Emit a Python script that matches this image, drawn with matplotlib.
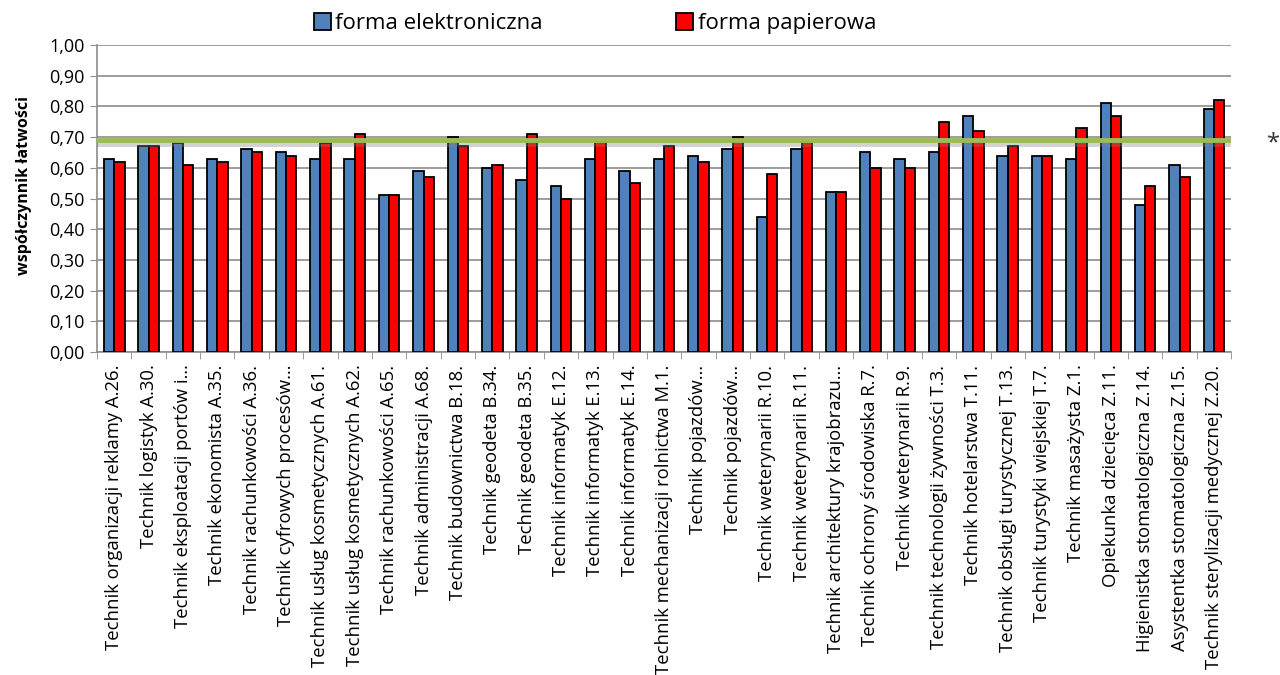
import matplotlib
matplotlib.use('Agg')
import matplotlib.pyplot as plt
import matplotlib.patheffects as pe
import numpy as np
from matplotlib.ticker import FixedLocator, FuncFormatter

plt.rcParams['font.family'] = ['Open Sans', 'DejaVu Sans']

categories = [
    'Technik organizacji reklamy A.26.', 'Technik logistyk A.30.', 'Technik eksploatacji portów i…',
    'Technik ekonomista A.35.', 'Technik rachunkowości A.36.', 'Technik cyfrowych procesów…',
    'Technik usług kosmetycznych A.61.', 'Technik usług kosmetycznych A.62.', 'Technik rachunkowości A.65.',
    'Technik administracji A.68.', 'Technik budownictwa B.18.', 'Technik geodeta B.34.',
    'Technik geodeta B.35.', 'Technik informatyk E.12.', 'Technik informatyk E.13.',
    'Technik informatyk E.14.', 'Technik mechanizacji rolnictwa M.1.', 'Technik pojazdów…',
    'Technik pojazdów…', 'Technik weterynarii R.10.', 'Technik weterynarii R.11.',
    'Technik architektury krajobrazu…', 'Technik ochrony środowiska R.7.', 'Technik weterynarii R.9.',
    'Technik technologii żywności T.3.', 'Technik hotelarstwa T.11.', 'Technik obsługi turystycznej T.13.',
    'Technik turystyki wiejskiej T.7.', 'Technik masażysta Z.1.', 'Opiekunka dziecięca Z.11.',
    'Higienistka stomatologiczna Z.14.', 'Asystentka stomatologiczna Z.15.', 'Technik sterylizacji medycznej Z.20.',
]
elektroniczna = [0.63, 0.67, 0.68, 0.63, 0.66, 0.65, 0.63, 0.63, 0.51, 0.59, 0.70,
                 0.60, 0.56, 0.54, 0.63, 0.59, 0.63, 0.64, 0.66, 0.44, 0.66, 0.52,
                 0.65, 0.63, 0.65, 0.77, 0.64, 0.64, 0.63, 0.81, 0.48, 0.61, 0.79]
papierowa = [0.62, 0.67, 0.61, 0.62, 0.65, 0.64, 0.68, 0.71, 0.51, 0.57, 0.67,
             0.61, 0.71, 0.50, 0.69, 0.55, 0.67, 0.62, 0.70, 0.58, 0.69, 0.52,
             0.60, 0.60, 0.75, 0.72, 0.67, 0.64, 0.73, 0.77, 0.54, 0.57, 0.82]
threshold = 0.69

fig = plt.figure(figsize=(12.8, 6.75), dpi=100)
ax = fig.add_axes([0.0758, 0.4785, 0.8860, 0.4548])

x = np.arange(len(categories))
w = 0.3
ax.bar(x - w / 2, elektroniczna, w, color='#4F81BD', edgecolor='black', linewidth=1.3,
       label='forma elektroniczna', zorder=3)
ax.bar(x + w / 2, papierowa, w, color='#FF0000', edgecolor='black', linewidth=1.3,
       label='forma papierowa', zorder=3)

# green reference line with soft shadow
ax.axhline(threshold, color='#9BBB59', linewidth=3.5, zorder=4,
           path_effects=[pe.SimpleLineShadow(offset=(1, -3), shadow_color='gray', alpha=0.35),
                         pe.Normal()])
ax.text(1.037, threshold - 0.012, '*', transform=ax.get_yaxis_transform(), fontsize=17,
        va='center', ha='center', color='#333333')

ax.set_xlim(-0.5, len(categories) - 0.5)
ax.set_ylim(0, 1.0)
ax.set_yticks(np.arange(0, 1.01, 0.1))
ax.yaxis.set_major_formatter(FuncFormatter(lambda v, p: f'{v:.2f}'.replace('.', ',')))
ax.grid(axis='y', color='#8C8C8C', linewidth=1.2, zorder=0)

ax.set_xticks(x)
ax.set_xticklabels(categories, rotation=90, fontsize=13.3)
ax.xaxis.set_minor_locator(FixedLocator(np.arange(-0.5, len(categories), 1)))
ax.tick_params(axis='x', which='major', length=0, pad=9)
ax.tick_params(axis='x', which='minor', length=5, color='#8C8C8C', direction='out')
ax.tick_params(axis='y', length=5, color='#8C8C8C', labelsize=13, pad=4)

for s in ['top', 'right']:
    ax.spines[s].set_visible(False)
for s in ['left', 'bottom']:
    ax.spines[s].set_color('#8C8C8C')
    ax.spines[s].set_linewidth(1.2)

ax.set_ylabel('współczynnik łatwości', fontsize=11.5, fontweight='bold')
ax.yaxis.set_label_coords(-0.057, 0.544)

fig.legend(loc='upper center', bbox_to_anchor=(0.465, 1.01), ncol=2, frameon=False,
           fontsize=16, handlelength=0.75, handleheight=0.75, handletextpad=0.2,
           columnspacing=6.0)

fig.savefig('out.png', dpi=100)
